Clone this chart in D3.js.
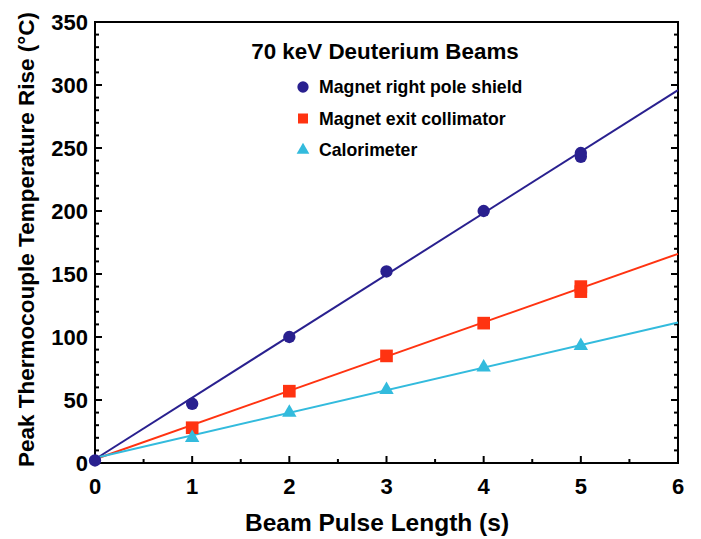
<!DOCTYPE html>
<html>
<head>
<meta charset="utf-8">
<script src="https://cdn.jsdelivr.net/npm/d3@7"></script>
<style>
  body { margin: 0; background: #fff; }
  svg text { font-family: "Liberation Sans", Arial, sans-serif; font-weight: bold; }
</style>
</head>
<body>
<div id="chart"></div>
<script>
// データ
const shieldX = [0, 1, 2, 3, 4, 5, 5];
const shieldY = [2, 47, 100, 152, 200, 246, 243];
const collimX = [1, 2, 3, 4, 5, 5];
const collimY = [28, 57, 85, 111, 140, 136];
const caloX = [1, 2, 3, 4, 5];
const caloY = [20, 40, 58, 76, 93];

// 直線フィットの両端 (x=0, x=6)
const fitX = [0, 6];
const shieldFit = [3, 296];
const collimFit = [3, 166];
const caloFit = [4, 111.5];

const xTicks = [0, 1, 2, 3, 4, 5, 6];
const yTicks = [0, 50, 100, 150, 200, 250, 300, 350];

const seriesNames = ["Magnet right pole shield", "Magnet exit collimator", "Calorimeter"];
const legendTitle = "70 keV Deuterium Beams";

const blue = "#29208f", red = "#ff3311", cyan = "#33bbdd";

// サイズ
const width = 701, height = 539;
const margin = {left: 95, top: 22, right: 23, bottom: 76};

const svg = d3.select("#chart").append("svg")
    .attr("width", width)
    .attr("height", height);

const x = d3.scaleLinear().domain([0, 6]).range([margin.left, width - margin.right]);
const y = d3.scaleLinear().domain([0, 350]).range([height - margin.bottom, margin.top]);

// 目盛り（内向き）
const g = svg.append("g");
const xMinor = d3.range(0.5, 6, 1);
const yMinor = d3.range(0, 351, 10).filter(v => v % 50 !== 0);

g.selectAll(".xmaj").data(xTicks.slice(1, -1)).enter().append("line")
    .attr("x1", d => x(d)).attr("x2", d => x(d))
    .attr("y1", y(0)).attr("y2", y(0) - 7)
    .attr("stroke", "#000").attr("stroke-width", 2);
g.selectAll(".xmin").data(xMinor).enter().append("line")
    .attr("x1", d => x(d)).attr("x2", d => x(d))
    .attr("y1", y(0)).attr("y2", y(0) - 4)
    .attr("stroke", "#000").attr("stroke-width", 2);

[[x(0), 1], [x(6), -1]].forEach(([x0, dir]) => {
    g.append("g").selectAll("line").data(yTicks.slice(1, -1)).enter().append("line")
        .attr("x1", x0).attr("x2", x0 + dir * 7)
        .attr("y1", d => y(d)).attr("y2", d => y(d))
        .attr("stroke", "#000").attr("stroke-width", 2);
    g.append("g").selectAll("line").data(yMinor).enter().append("line")
        .attr("x1", x0).attr("x2", x0 + dir * 4)
        .attr("y1", d => y(d)).attr("y2", d => y(d))
        .attr("stroke", "#000").attr("stroke-width", 2);
});

// 枠
svg.append("rect")
    .attr("x", x(0)).attr("y", y(350))
    .attr("width", x(6) - x(0)).attr("height", y(0) - y(350))
    .attr("fill", "none").attr("stroke", "#000").attr("stroke-width", 2);

// 目盛りラベル
svg.selectAll(".xl").data(xTicks).enter().append("text")
    .attr("x", d => x(d)).attr("y", y(0) + 31)
    .attr("text-anchor", "middle").attr("font-size", 22)
    .text(d => d);
svg.selectAll(".yl").data(yTicks).enter().append("text")
    .attr("x", x(0) - 7).attr("y", d => y(d) + 8)
    .attr("text-anchor", "end").attr("font-size", 22)
    .text(d => d);

// 軸タイトル
svg.append("text")
    .attr("x", 377).attr("y", 531)
    .attr("text-anchor", "middle").attr("font-size", 24.5)
    .text("Beam Pulse Length (s)");
svg.append("text")
    .attr("transform", `translate(34,${(y(0) + y(350)) / 2 - 3}) rotate(-90)`)
    .attr("text-anchor", "middle").attr("font-size", 22.5)
    .text("Peak Thermocouple Temperature Rise (°C)");

// フィット直線
const line = d3.line().x(d => x(d[0])).y(d => y(d[1]));
[[shieldFit, blue], [collimFit, red], [caloFit, cyan]].forEach(([fit, c]) => {
    svg.append("path")
        .attr("d", line(fitX.map((v, i) => [v, fit[i]])))
        .attr("fill", "none").attr("stroke", c).attr("stroke-width", 2);
});

// マーカー
const sym = {
    circle: d3.symbol().type(d3.symbolCircle).size(120),
    square: d3.symbol().type(d3.symbolSquare).size(160),
    triangle: d3.symbol().type(d3.symbolTriangle).size(90)
};
function drawPoints(xs, ys, s, c) {
    svg.append("g").selectAll("path").data(xs.map((v, i) => [v, ys[i]])).enter().append("path")
        .attr("transform", d => `translate(${x(d[0])},${y(d[1])})`)
        .attr("d", sym[s]()).attr("fill", c);
}
drawPoints(shieldX, shieldY, "circle", blue);
drawPoints(collimX, collimY, "square", red);
drawPoints(caloX, caloY, "triangle", cyan);

// 凡例
svg.append("text")
    .attr("x", 385).attr("y", 59)
    .attr("text-anchor", "middle").attr("font-size", 22.4)
    .text(legendTitle);
const legend = [["circle", blue], ["square", red], ["triangle", cyan]];
legend.forEach(([s, c], i) => {
    const ly = 87 + i * 31.5;
    svg.append("path")
        .attr("transform", `translate(303,${ly})`)
        .attr("d", d3.symbol().type(s === "circle" ? d3.symbolCircle : s === "square" ? d3.symbolSquare : d3.symbolTriangle).size(s === "triangle" ? 70 : 100)())
        .attr("fill", c);
    svg.append("text")
        .attr("x", 319).attr("y", ly + 6)
        .attr("font-size", 17.7)
        .text(seriesNames[i]);
});
</script>
</body>
</html>
